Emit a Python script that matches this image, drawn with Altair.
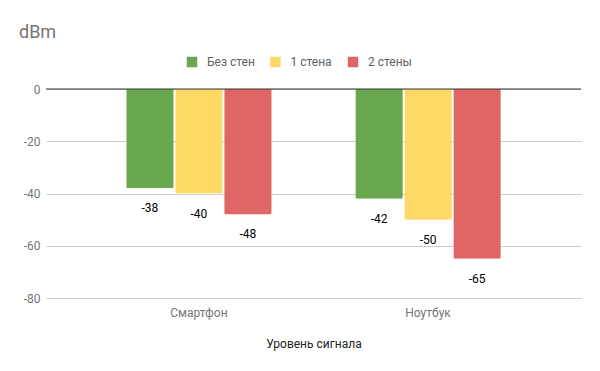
import altair as alt
import pandas as pd

categories = ["Смартфон", "Ноутбук"]
series = ["Без стен", "1 стена", "2 стены"]
no_walls = [-38, -42]
one_wall = [-40, -50]
two_walls = [-48, -65]
colors = ["#6aa84f", "#ffd966", "#e06666"]
y_ticks = [0, -20, -40, -60, -80]

rows = []
for s, vals in zip(series, [no_walls, one_wall, two_walls]):
    for c, v in zip(categories, vals):
        rows.append({"device": c, "series": s, "value": v, "label": str(v)})
df = pd.DataFrame(rows)

FONT = "Roboto"

x_enc = alt.X(
    "device:N", sort=categories, title="Уровень сигнала",
    scale=alt.Scale(paddingInner=0.365, paddingOuter=0.35),
    axis=alt.Axis(labelAngle=0, domain=False, ticks=False, labelPadding=9,
                  labelColor="#757575", labelFontSize=12, labelFont=FONT,
                  titleFont=FONT, titleFontSize=12, titleFontWeight="normal",
                  titleColor="#222222", titlePadding=20),
)
xo_enc = alt.XOffset("series:N", sort=series, scale=alt.Scale(paddingInner=0.03))
y_enc = alt.Y(
    "value:Q", title=None,
    scale=alt.Scale(domain=[-80, 0], nice=False),
    axis=alt.Axis(values=y_ticks, domain=False, ticks=False, labelPadding=6,
                  labelColor="#757575", labelFontSize=12, labelFont=FONT,
                  labelExpr="toString(datum.value)",
                  gridColor="#cccccc", gridWidth=1),
)

bars = alt.Chart(df).mark_bar(cornerRadius=1.5).encode(
    x=x_enc, xOffset=xo_enc, y=y_enc,
    color=alt.Color(
        "series:N", sort=series,
        scale=alt.Scale(domain=series, range=colors),
        legend=alt.Legend(
            title=None, orient="none", direction="horizontal",
            legendX=140, legendY=-33, symbolType="square", symbolSize=110,
            symbolStrokeWidth=0, labelOffset=9, columnPadding=14.5,
            labelFont=FONT, labelFontSize=12, labelColor="#616161",
        ),
    ),
)

labels = alt.Chart(df).mark_text(
    dy=20, baseline="middle", align="center", fontSize=12, font=FONT, color="#000000"
).encode(x=x_enc, xOffset=xo_enc, y=y_enc, text=alt.Text("label:N"))

zero = alt.Chart(pd.DataFrame({"value": [0]})).mark_rule(
    color="#333333", strokeWidth=1
).encode(y=alt.Y("value:Q"))

chart = alt.layer(bars, labels, zero).properties(
    width=535, height=209,
    padding={"left": 38, "top": 81, "right": 11, "bottom": 65},
    autosize=alt.AutoSizeParams(type="none"),
    title=alt.TitleParams(
        "dBm", anchor="start", frame="group", offset=14, dx=-27,
        font=FONT, fontSize=18, fontWeight="normal", color="#757575",
    ),
).configure_view(stroke=None)

chart.save("out.html", embed_options={"renderer": "svg", "actions": False})
